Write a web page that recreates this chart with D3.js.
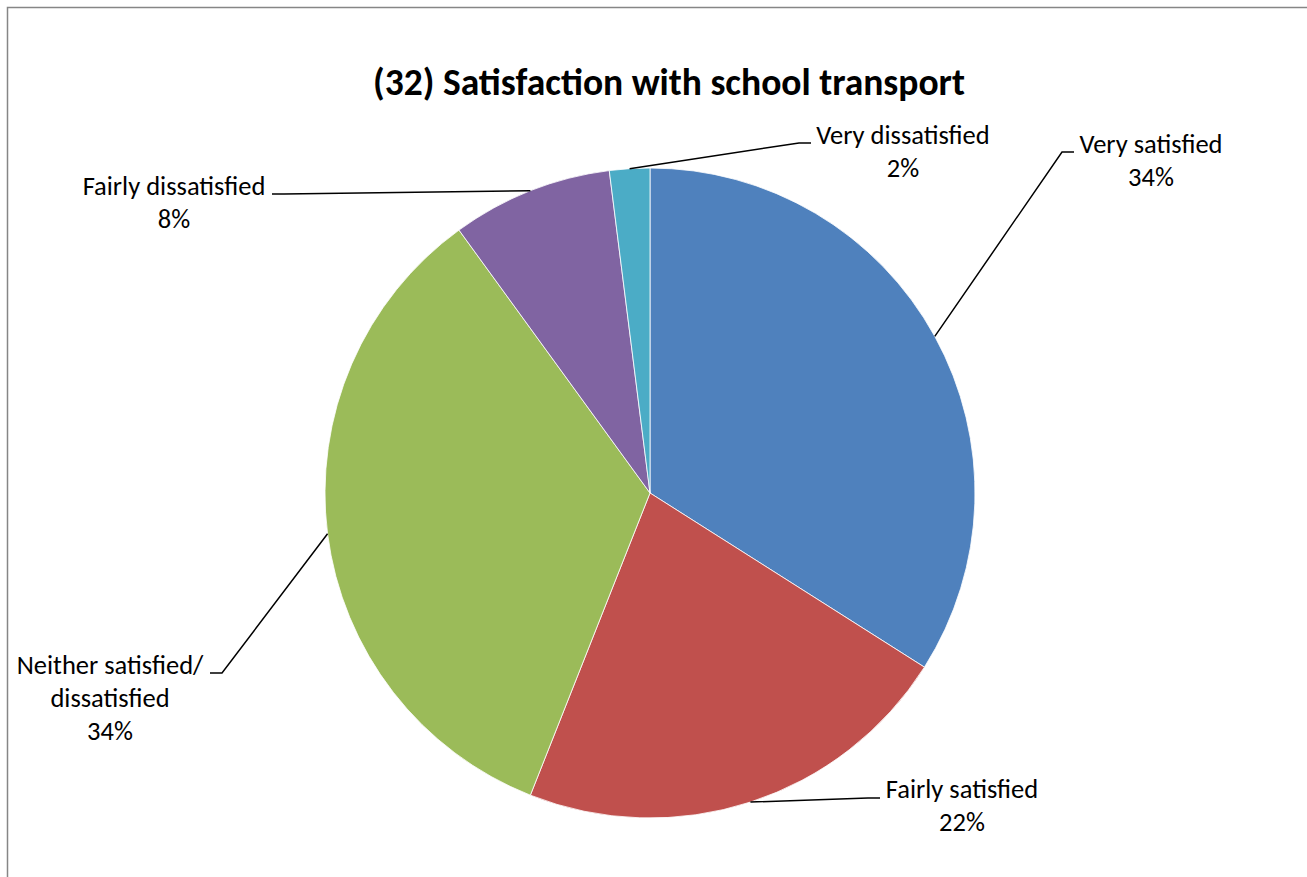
<!DOCTYPE html>
<html>
<head>
<meta charset="utf-8">
<script src="https://cdn.jsdelivr.net/npm/d3@7"></script>
<style>
  html, body { margin: 0; padding: 0; background: #fff; }
  svg { display: block; }
  text { font-family: Calibri, Carlito, "Liberation Sans", Arial, sans-serif; fill: #000; }
</style>
</head>
<body>
<svg id="chart" width="1307" height="877"></svg>
<script>
// Survey answers, in the order they are drawn clockwise from 12 o'clock
const categories = ["Very satisfied", "Fairly satisfied", "Neither satisfied/ dissatisfied", "Fairly dissatisfied", "Very dissatisfied"];
const labelLines = [["Very satisfied"], ["Fairly satisfied"], ["Neither satisfied/", "dissatisfied"], ["Fairly dissatisfied"], ["Very dissatisfied"]];
const shares = [34, 22, 34, 8, 2];
const colors = ["#4F81BD", "#C0504D", "#9BBB59", "#8064A2", "#4BACC6"];
const title = "(32) Satisfaction with school transport";

// Label placement: text centre / first baseline, and the short horizontal tab of each leader
const labelLayout = [
  { tx: 1151, ty: 153, tab: [[1074, 152], [1062, 152]] },
  { tx: 962,  ty: 798, tab: [[880, 798], [868, 798]] },
  { tx: 110,  ty: 674, tab: [[210, 673], [222, 673]] },
  { tx: 174,  ty: 195, tab: [[272, 194], [284, 194]] },
  { tx: 903,  ty: 144, tab: [[811, 143], [799, 143]] }
];

const svg = d3.select("#chart");
const cx = 650, cy = 493, r = 325;
const lineGap = 33;

// Outer frame
svg.append("rect")
  .attr("x", 7.5).attr("y", 7.5)
  .attr("width", 1400).attr("height", 1000)
  .attr("fill", "none").attr("stroke", "#868686").attr("stroke-width", 1.5);

// Title
svg.append("text")
  .attr("x", 669).attr("y", 95)
  .attr("text-anchor", "middle")
  .attr("font-weight", "bold")
  .attr("font-size", 37.5)
  .text(title);

const data = categories.map((c, i) => ({ name: c, value: shares[i], i }));
const pie = d3.pie().value(d => d.value).sort(null);
const arcs = pie(data);
const arc = d3.arc().innerRadius(0).outerRadius(r);

const g = svg.append("g").attr("transform", `translate(${cx},${cy})`);
g.selectAll("path.slice")
  .data(arcs)
  .join("path")
  .attr("class", "slice")
  .attr("d", arc)
  .attr("fill", d => colors[d.data.i])
  .attr("stroke", "#fff")
  .attr("stroke-width", 0.8);

// Leader lines from slice mid-angle on the rim to the label tab
const line = d3.line();
arcs.forEach(a => {
  const mid = (a.startAngle + a.endAngle) / 2;
  const rim = [cx + r * Math.sin(mid), cy - r * Math.cos(mid)];
  const L = labelLayout[a.data.i];
  const pts = [rim, L.tab[1], L.tab[0]];
  svg.append("path")
    .attr("d", line(pts))
    .attr("fill", "none")
    .attr("stroke", "#000")
    .attr("stroke-width", 1.5);

  const lines = labelLines[a.data.i].concat([d3.format(".0f")(a.data.value) + "%"]);
  const t = svg.append("text")
    .attr("text-anchor", "middle")
    .attr("font-size", 26.5);
  lines.forEach((s, k) => {
    t.append("tspan")
      .attr("x", L.tx)
      .attr("y", L.ty + k * lineGap)
      .text(s);
  });
});
</script>
</body>
</html>
